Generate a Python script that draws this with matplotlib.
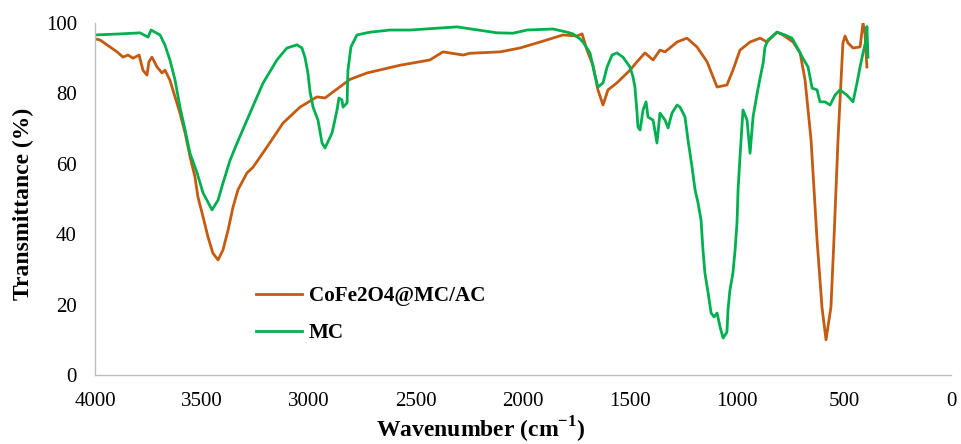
import matplotlib
matplotlib.use("Agg")
import matplotlib.pyplot as plt

plt.rcParams["font.family"] = ["Liberation Serif", "DejaVu Serif"]
plt.rcParams["mathtext.fontset"] = "custom"
plt.rcParams["mathtext.rm"] = "Liberation Serif"
plt.rcParams["mathtext.bf"] = "Liberation Serif:bold"

# FTIR spectrum of the composite
cofe_wn = [4000, 3977, 3930, 3897, 3869, 3846, 3822, 3794, 3776, 3757, 3748, 3734,
           3710, 3687, 3673, 3650, 3626, 3603, 3579, 3556, 3533, 3519, 3495, 3472,
           3449, 3425, 3402, 3378, 3355, 3332, 3290, 3262, 3196, 3121, 3042, 2963,
           2925, 2888, 2808, 2729, 2575, 2435, 2374, 2280, 2248, 2107, 2014, 1920,
           1813, 1748, 1724, 1701, 1673, 1650, 1626, 1603, 1561, 1500, 1467, 1430,
           1392, 1360, 1336, 1280, 1234, 1187, 1140, 1093, 1047, 1019, 986, 939,
           892, 860, 813, 785, 738, 705, 682, 654, 626, 603, 584, 561, 547, 528,
           505, 495, 481, 458, 425, 411, 402, 393]
cofe_t = [95.5, 95.2, 93.2, 91.8, 90.3, 90.9, 90.0, 90.9, 86.6, 85.2, 89.0, 90.3,
          87.5, 85.8, 86.6, 83.8, 79.0, 74.4, 68.8, 62.0, 56.3, 50.6, 44.9, 39.2,
          34.6, 32.7, 35.5, 41.2, 47.7, 52.6, 57.4, 59.0, 64.8, 71.6, 76.1, 79.0,
          78.7, 80.4, 84.0, 85.8, 88.0, 89.5, 91.8, 90.9, 91.4, 91.8, 92.9, 94.6,
          96.6, 96.3, 96.9, 92.3, 88.0, 81.0, 76.7, 81.0, 83.0, 86.6, 89.0, 91.5,
          89.5, 92.3, 91.8, 94.6, 95.7, 93.2, 89.0, 81.8, 82.4, 86.6, 92.3, 94.6,
          95.7, 94.6, 97.4, 96.6, 94.6, 91.5, 83.8, 66.8, 38.4, 19.3, 10.0, 19.3,
          38.4, 66.8, 94.3, 96.3, 94.3, 92.9, 93.2, 100.0, 97.0, 87.5]

# FTIR spectrum of MC
mc_wn = [4000, 3883, 3790, 3752, 3738, 3696, 3673, 3650, 3626, 3603, 3579, 3556,
         3523, 3495, 3453, 3425, 3402, 3369, 3336, 3290, 3215, 3150, 3103, 3056,
         3033, 3019, 3005, 2995, 2981, 2958, 2939, 2925, 2892, 2869, 2860, 2846,
         2841, 2822, 2818, 2804, 2776, 2715, 2621, 2528, 2308, 2121, 2047, 1981,
         1860, 1794, 1766, 1734, 1720, 1687, 1664, 1650, 1626, 1607, 1584, 1561,
         1533, 1500, 1486, 1477, 1467, 1463, 1453, 1439, 1425, 1416, 1392, 1374,
         1360, 1336, 1322, 1304, 1280, 1266, 1243, 1229, 1210, 1196, 1182, 1168,
         1159, 1150, 1135, 1121, 1107, 1093, 1079, 1065, 1047, 1042, 1033, 1019,
         1009, 1000, 995, 986, 972, 953, 939, 925, 906, 892, 878, 869, 855, 813,
         776, 743, 720, 692, 668, 649, 626, 612, 589, 565, 542, 519, 486, 458,
         439, 425, 411, 397, 393, 388]
mc_t = [96.6, 96.9, 97.2, 96.0, 98.0, 96.6, 93.7, 89.5, 83.8, 76.1, 69.6, 63.0,
        57.4, 51.7, 46.9, 49.7, 54.5, 61.0, 65.9, 72.4, 82.9, 89.5, 92.9, 93.8,
        92.9, 90.3, 85.8, 80.4, 76.1, 72.4, 65.9, 64.5, 68.8, 75.3, 78.7, 78.1,
        76.1, 77.3, 86.6, 93.2, 96.6, 97.4, 98.0, 98.0, 98.9, 97.2, 97.1, 98.0,
        98.3, 97.4, 96.9, 95.5, 94.6, 91.5, 85.2, 81.8, 83.0, 87.5, 90.9, 91.5,
        90.3, 87.5, 84.7, 81.8, 74.4, 70.5, 69.6, 75.3, 77.6, 73.3, 72.4, 65.9,
        74.4, 72.4, 70.2, 74.4, 76.7, 76.1, 73.3, 66.8, 59.0, 52.6, 48.9, 44.0,
        35.5, 29.0, 23.3, 17.6, 16.5, 17.6, 13.6, 10.5, 12.2, 18.5, 24.1, 29.0,
        35.5, 43.2, 52.6, 62.0, 75.3, 72.4, 63.0, 73.3, 80.0, 84.4, 88.6, 93.2,
        95.2, 97.4, 96.6, 95.7, 93.2, 90.0, 87.5, 81.5, 81.0, 77.6, 77.6, 76.7,
        79.5, 81.0, 79.5, 77.6, 83.0, 87.5, 91.5, 95.2, 99.0, 90.3]

series_labels = ["CoFe2O4@MC/AC", "MC"]
series_colors = ["#C55A11", "#00B050"]
x_ticks = [4000, 3500, 3000, 2500, 2000, 1500, 1000, 500, 0]
y_ticks = [0, 20, 40, 60, 80, 100]

fig = plt.figure(figsize=(9.61, 4.44), dpi=100)
ax = fig.add_axes([95 / 961, 69 / 444, 856 / 961, 352 / 444])

ax.plot(cofe_wn, cofe_t, color=series_colors[0], lw=2.0, label=series_labels[0],
        solid_joinstyle="round")
ax.plot(mc_wn, mc_t, color=series_colors[1], lw=2.0, label=series_labels[1],
        solid_joinstyle="round")

ax.set_xlim(4000, 0)
ax.set_ylim(0, 100)
ax.set_xticks(x_ticks)
ax.set_yticks(y_ticks)
ax.tick_params(axis="both", length=0, labelsize=15, colors="black")
ax.tick_params(axis="x", pad=12)
ax.tick_params(axis="y", pad=13)

for side in ("top", "right"):
    ax.spines[side].set_visible(False)
for side in ("left", "bottom"):
    ax.spines[side].set_color("#BFBFBF")
    ax.spines[side].set_linewidth(1.0)

ax.set_xlabel(r"Wavenumber (cm$^{\mathbf{-1}}$)", fontsize=17, fontweight="bold")
ax.xaxis.set_label_coords(0.45, -0.112)
ax.set_ylabel("Transmittance (%)", fontsize=17, fontweight="bold")
ax.yaxis.set_label_coords(-0.071, 0.485)

leg = ax.legend(loc="center left", bbox_to_anchor=(0.188, 0.172), frameon=False,
                prop={"family": "Liberation Serif", "weight": "bold", "size": 15.2},
                handlelength=2.2, handletextpad=0.3, labelspacing=0.8,
                borderpad=0, borderaxespad=0)

fig.savefig("out.png", dpi=100)
